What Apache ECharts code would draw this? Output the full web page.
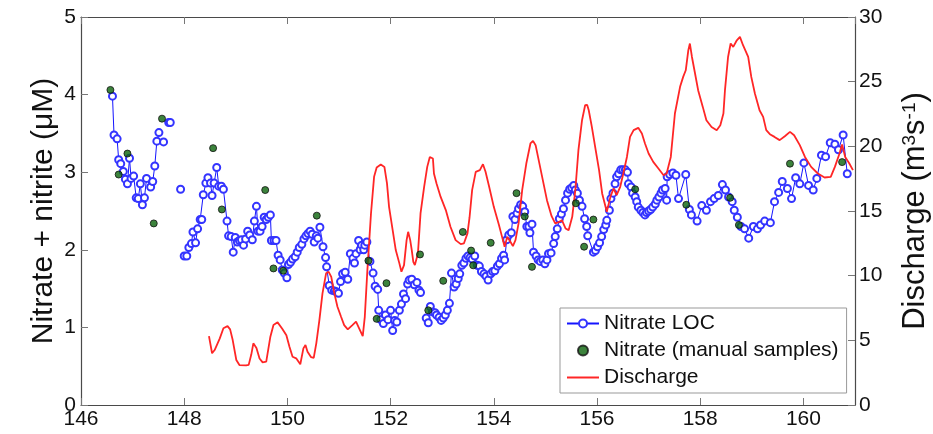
<!DOCTYPE html>
<html>
<head>
<meta charset="utf-8">
<script src="https://cdn.jsdelivr.net/npm/echarts@6/dist/echarts.min.js"></script>
<style>
html,body{margin:0;padding:0;background:#fff;}
#chart{width:933px;height:434px;}
</style>
</head>
<body>
<div id="chart"></div>
<script>
// Nitrate LOC (day, µM); null value = gap in the record
const locDay = [
146.61,146.64,146.70,146.73,146.77,146.82,146.86,146.90,146.94,146.97,147.02,147.07,147.11,147.15,147.19,147.23,147.27,147.35,147.39,147.43,147.47,147.51,
147.555,147.60,147.65,147.70,147.73,147.83,147.93,147.96,
148.00,148.05,148.09,148.14,148.17,148.22,148.26,148.31,148.34,148.37,148.42,148.46,148.51,148.54,148.58,148.63,148.67,148.72,148.76,148.83,148.86,148.91,148.95,148.99,
149.03,149.07,149.11,149.15,149.19,149.23,149.27,149.32,149.36,149.40,149.43,149.47,149.51,149.55,149.59,149.63,149.67,149.69,149.74,149.78,149.82,149.86,149.90,149.94,149.99,
150.02,150.06,150.10,150.15,150.19,150.23,150.28,150.32,150.36,150.40,150.44,150.48,150.52,150.56,150.59,150.63,150.69,150.74,150.76,150.81,150.86,150.91,150.95,150.99,
151.03,151.07,151.12,151.17,151.22,151.27,151.30,151.33,151.38,151.41,151.44,151.48,151.50,151.54,151.60,151.66,151.70,151.75,151.77,151.81,151.86,151.90,151.95,
152.00,152.04,152.08,152.12,152.17,152.21,152.25,152.29,152.33,152.36,152.41,152.46,152.51,152.55,152.58,152.63,
152.69,152.73,152.77,152.81,152.86,152.89,152.94,152.98,153.02,153.06,153.10,153.14,153.18,153.23,153.27,153.31,153.34,153.38,153.42,153.46,153.50,153.54,153.58,153.63,153.68,153.72,153.76,153.81,153.85,153.89,153.94,153.98,
154.02,154.07,154.11,154.15,154.19,154.21,154.25,154.29,154.34,154.37,154.41,154.45,154.48,154.52,154.56,154.60,154.64,154.68,154.70,154.74,154.77,154.82,154.86,154.90,154.95,154.99,
155.03,155.06,155.11,155.16,155.19,155.23,155.27,155.31,155.35,155.39,155.43,155.47,155.51,155.55,155.58,155.62,155.66,155.71,155.76,155.80,155.82,155.93,155.97,
156.01,156.05,156.09,156.13,156.17,156.19,156.24,156.27,156.31,156.35,156.38,156.42,156.46,156.50,156.55,156.59,156.61,156.66,156.69,156.74,156.77,156.80,156.85,156.89,156.93,156.96,
157.00,157.04,157.08,157.13,157.16,157.20,157.24,157.27,157.32,157.35,157.36,157.41,157.47,157.53,157.58,157.72,157.79,157.83,157.94,
158.03,158.12,158.20,158.27,158.35,158.43,158.49,158.55,158.62,158.66,158.72,158.79,158.86,158.94,
159.03,159.11,159.17,159.25,159.36,159.44,159.52,159.59,159.69,159.77,159.85,159.93,
160.01,160.10,160.19,160.26,160.35,160.43,160.52,160.61,160.68,160.77,160.85
];
const locNitrate = [
3.98,3.48,3.43,3.16,3.11,3.01,2.91,2.85,3.18,2.92,2.95,2.67,2.66,2.85,2.58,2.67,2.92,2.81,2.88,3.08,3.40,3.51,
null,3.39,null,3.64,3.64,null,2.78,null,
1.92,1.92,2.03,2.08,2.23,2.09,2.27,2.39,2.39,2.71,2.86,2.93,2.86,2.70,2.86,3.06,2.82,2.82,2.78,2.37,2.18,2.17,1.97,2.16,
2.10,2.12,2.13,2.06,2.14,2.24,2.19,2.13,2.37,2.56,2.24,2.24,2.30,2.42,2.39,2.42,2.45,2.12,2.12,2.12,1.93,1.87,1.74,1.70,1.64,
1.81,1.84,1.88,1.91,1.97,2.03,2.07,2.14,2.18,2.21,2.24,2.20,2.10,2.18,2.15,2.29,2.04,1.90,1.78,1.54,1.48,1.47,1.46,1.44,
1.59,1.69,1.71,1.62,1.95,1.89,1.83,1.95,2.12,2.00,2.06,2.00,2.06,2.10,1.85,1.70,1.53,1.49,1.22,1.10,1.05,1.16,1.10,
1.22,0.96,1.09,1.07,1.22,1.30,1.43,1.37,1.56,1.61,1.62,1.55,1.58,1.48,1.45,null,
1.12,1.06,1.27,1.20,1.19,1.16,1.13,1.09,1.12,1.16,1.22,1.31,1.70,1.52,1.56,1.63,1.69,1.80,1.83,1.89,1.92,1.90,1.88,1.92,1.80,1.79,1.72,1.69,1.66,1.61,1.69,1.72,
1.73,1.79,1.82,1.89,1.93,1.87,2.13,2.19,2.22,2.43,2.39,2.47,2.53,2.58,2.56,2.49,2.30,2.30,2.22,2.33,1.97,1.92,1.87,1.85,1.87,1.82,
1.87,1.95,1.96,2.08,2.17,2.27,2.40,2.46,2.53,2.64,2.73,2.78,2.80,2.83,2.77,2.73,2.64,2.56,2.40,2.30,2.18,1.97,1.99,
2.04,2.09,2.17,2.26,2.32,2.38,2.51,2.66,2.73,2.85,2.94,2.98,3.03,3.03,3.03,3.00,2.85,2.81,2.73,2.68,2.62,2.55,2.51,2.48,2.45,2.48,
2.50,2.52,2.55,2.59,2.64,2.68,2.73,2.77,2.79,2.64,2.94,2.97,2.99,2.96,2.66,2.97,2.52,2.45,2.37,
2.57,2.51,2.62,2.66,2.70,2.84,2.77,2.68,2.62,2.51,2.42,2.30,2.27,2.15,
2.30,2.27,2.32,2.37,2.35,2.62,2.74,2.88,2.79,2.66,2.93,2.85,
3.12,2.83,2.77,2.92,3.22,3.20,3.38,3.36,3.29,3.48,2.98
];

// Nitrate manual samples (day, µM)
const manualDay = [146.57,146.73,146.90,147.41,147.57,148.56,148.73,149.57,149.73,149.92,150.57,151.57,151.73,151.92,152.57,152.73,153.02,153.40,153.56,153.60,153.94,154.44,154.60,154.74,155.59,155.75,155.93,156.74,157.73,158.58,158.75,159.74,160.75];
const manualNitrate = [4.06,2.97,3.24,2.34,3.69,3.31,2.52,2.77,1.76,1.73,2.44,1.86,1.11,1.57,1.94,1.22,1.60,2.23,1.99,1.80,2.09,2.73,2.43,1.78,2.60,2.04,2.39,2.78,2.58,2.67,2.32,3.11,3.13];

// Discharge (day, m3 s-1)
const qDay = [
148.48,148.54,148.59,148.69,148.76,148.84,148.89,148.94,149.01,149.07,149.20,149.25,149.30,149.34,149.40,149.46,149.52,149.59,149.67,149.73,149.81,149.90,149.98,
150.04,150.10,150.17,150.25,150.31,150.35,150.39,150.46,150.51,150.56,150.62,150.68,150.75,150.80,150.85,150.91,150.97,
151.04,151.10,151.17,151.26,151.33,151.39,151.46,151.50,151.55,151.62,151.68,151.73,151.81,151.88,151.93,151.97,
152.04,152.10,152.17,152.21,152.26,152.31,152.34,152.38,152.41,152.44,152.47,152.53,152.58,152.65,152.71,152.76,152.79,152.82,152.84,152.89,152.97,
153.07,153.16,153.26,153.36,153.42,153.49,153.53,153.58,153.65,153.73,153.79,153.84,153.91,
154.00,154.10,154.16,154.21,154.26,154.31,154.37,154.42,154.48,154.55,154.63,154.71,154.76,154.81,154.87,154.95,
155.03,155.12,155.19,155.27,155.32,155.39,155.45,155.52,155.58,155.64,155.71,155.77,155.81,155.84,155.90,155.97,
156.04,156.10,156.19,156.26,156.32,156.38,156.45,156.51,156.58,156.64,156.71,156.80,156.87,156.93,
157.00,157.09,157.19,157.29,157.35,157.43,157.51,157.61,157.67,157.72,157.77,157.80,157.84,157.90,157.96,
158.05,158.12,158.22,158.32,158.39,158.45,158.48,158.54,158.59,158.64,158.71,158.77,158.83,158.93,158.99,
159.06,159.15,159.22,159.28,159.35,159.44,159.54,159.64,159.74,159.82,159.93,
160.03,160.15,160.28,160.41,160.53,160.61,160.70,160.75,160.81,160.89,160.96
];
const qDischarge = [
5.33,4.00,4.25,5.15,5.93,6.10,5.85,5.02,3.48,3.09,3.06,3.10,3.90,4.77,4.40,3.60,3.30,3.35,5.28,6.18,6.39,5.90,5.40,
4.50,3.73,3.61,3.15,4.38,4.64,4.12,3.70,3.65,4.77,6.57,8.63,10.18,10.30,9.91,8.63,7.60,
6.82,6.18,5.85,6.18,6.44,5.93,5.33,6.82,10.43,14.81,17.64,18.36,18.59,18.41,17.13,15.32,
13.52,11.98,10.95,10.30,10.82,12.75,13.39,12.75,11.98,11.07,10.82,11.72,14.81,16.87,18.41,19.18,19.30,19.06,17.90,17.13,16.09,
15.07,13.78,12.75,12.44,12.49,13.27,14.50,16.61,18.03,18.16,18.62,18.03,16.87,
15.32,13.91,13.00,12.23,13.00,12.70,12.29,12.75,14.04,16.61,18.67,20.22,20.42,20.09,18.93,17.39,
15.84,14.60,14.04,14.16,14.29,13.65,13.52,14.55,16.61,19.70,22.02,23.18,23.20,22.79,21.50,19.83,
18.16,16.36,14.94,16.09,16.74,16.22,16.87,17.90,19.18,20.73,21.25,21.43,21.00,20.22,
19.45,18.80,18.29,17.77,17.90,19.18,22.54,24.60,25.37,25.88,27.43,27.95,26.91,25.63,24.34,
23.05,22.02,21.50,21.25,21.63,22.54,24.34,26.91,27.95,27.69,28.20,28.46,27.82,26.91,25.37,
24.08,22.79,22.28,21.25,20.94,20.73,20.48,20.78,21.12,20.86,20.09,
19.18,18.41,17.90,17.59,17.64,18.41,19.45,20.14,19.18,18.67,18.16
];

const xTicksMin = 146, xTicksMax = 161, xStep = 2;
const leftMin = 0, leftMax = 5, leftStep = 1;
const rightMin = 0, rightMax = 30, rightStep = 5;

const FONT = '"Liberation Sans", Arial, Helvetica, sans-serif';
const AX = '#4a4a4a';

const locData = locDay.map((d, i) => [d, locNitrate[i] === null ? '-' : locNitrate[i]]);
const manualData = manualDay.map((d, i) => [d, manualNitrate[i]]);
const qData = qDay.map((d, i) => [d, qDischarge[i]]);

const chart = echarts.init(document.getElementById('chart'), null, {renderer: 'canvas'});
const xBase = {
  type: 'value', min: xTicksMin, max: xTicksMax, interval: xStep,
  axisLine: {show: true, onZero: false, lineStyle: {color: AX, width: 1.2}},
  axisTick: {show: true, inside: true, length: 7, lineStyle: {color: '#777'}},
  splitLine: {show: false}
};
chart.setOption({
  backgroundColor: '#fff',
  animation: false,
  textStyle: {fontFamily: FONT},
  grid: {left: 81, right: 78, top: 17, bottom: 29, containLabel: false, outerBoundsMode: 'none'},
  xAxis: [
    Object.assign({}, xBase, {
      position: 'bottom',
      axisLabel: {show: true, fontSize: 21, color: '#111', margin: 4, fontFamily: FONT, showMaxLabel: false}
    }),
    Object.assign({}, xBase, {
      position: 'top',
      axisLabel: {show: false}
    })
  ],
  yAxis: [
    {
      type: 'value', min: leftMin, max: leftMax, interval: leftStep, position: 'left',
      name: 'Nitrate + nitrite (\u03bcM)', nameLocation: 'middle', nameGap: 22, nameMoveOverlap: false,
      nameTextStyle: {fontSize: 30, color: '#111', fontFamily: FONT},
      axisLine: {show: true, onZero: false, lineStyle: {color: AX, width: 1.2}},
      axisTick: {show: true, inside: true, length: 7, lineStyle: {color: '#777'}},
      axisLabel: {fontSize: 21, color: '#111', margin: 5, fontFamily: FONT},
      splitLine: {show: false}
    },
    {
      type: 'value', min: rightMin, max: rightMax, interval: rightStep, position: 'right',
      name: 'Discharge (m{sup|3}s{sup|-1})', nameLocation: 'middle', nameGap: 45, nameRotate: 90,
      nameTextStyle: {fontSize: 31, color: '#111', fontFamily: FONT,
        rich: {sup: {fontSize: 19, fontFamily: FONT, color: '#111', verticalAlign: 'top', lineHeight: 30}}},
      axisLine: {show: true, onZero: false, lineStyle: {color: AX, width: 1.2}},
      axisTick: {show: true, inside: true, length: 7, lineStyle: {color: '#777'}},
      axisLabel: {fontSize: 21, color: '#111', margin: 4, fontFamily: FONT},
      splitLine: {show: false}
    }
  ],
  legend: {
    orient: 'vertical', left: 560, top: 308,
    padding: [5, 8, 5, 6], itemGap: 6, itemWidth: 32, itemHeight: 10,
    backgroundColor: '#fff', borderColor: '#999', borderWidth: 1,
    textStyle: {fontSize: 21, color: '#111', fontFamily: FONT},
    data: [
      'Nitrate LOC',
      {name: 'Nitrate (manual samples)'},
      {name: 'Discharge', itemStyle: {opacity: 0}}
    ]
  },
  series: [
    {
      name: 'Nitrate LOC', type: 'line', xAxisIndex: 0, yAxisIndex: 0,
      data: locData, connectNulls: false,
      symbol: 'emptyCircle', symbolSize: 7, showAllSymbol: true,
      lineStyle: {color: '#1414ff', width: 1},
      itemStyle: {color: '#3434ff', borderColor: '#3434ff', borderWidth: 1},
      z: 2
    },
    {
      name: 'Nitrate (manual samples)', type: 'scatter', xAxisIndex: 0, yAxisIndex: 0,
      data: manualData, symbol: 'circle', symbolSize: 7,
      itemStyle: {color: '#0b640b', borderColor: '#111', borderWidth: 1},
      z: 4
    },
    {
      name: 'Discharge', type: 'line', xAxisIndex: 0, yAxisIndex: 1,
      data: qData, symbol: 'none', smooth: false,
      lineStyle: {color: '#ff2626', width: 1.8},
      itemStyle: {color: '#ff2626'},
      z: 3
    }
  ]
});
</script>
</body>
</html>
